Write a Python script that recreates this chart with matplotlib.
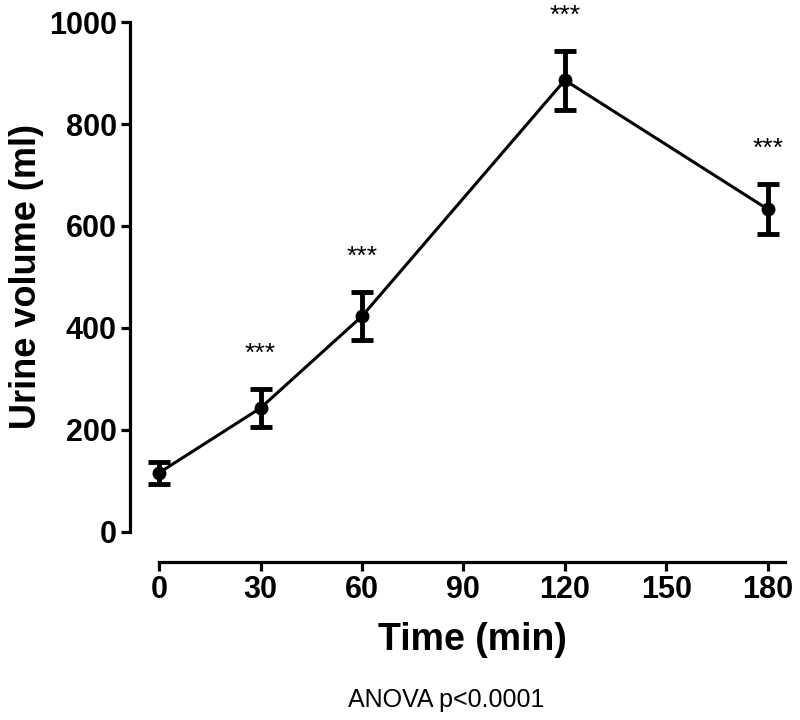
import matplotlib
matplotlib.use('Agg')
import matplotlib.pyplot as plt

# data
time_min = [0, 30, 60, 120, 180]
urine_ml = [116, 243, 423, 886, 633]
urine_sem = [21, 38, 47, 58, 49]
stars = ['', '***', '***', '***', '***']
x_ticks = [0, 30, 60, 90, 120, 150, 180]
y_ticks = [0, 200, 400, 600, 800, 1000]

plt.rcParams['font.family'] = ['Liberation Sans', 'DejaVu Sans']

fig = plt.figure(figsize=(8, 7.2), dpi=100)
ax = fig.add_axes([0.1625, 0.2194, 0.8225, 0.75])

ax.errorbar(time_min, urine_ml, yerr=urine_sem, color='black', lw=2.2,
            marker='o', ms=9, elinewidth=3.5, capsize=8, capthick=3.5,
            clip_on=False, zorder=3)

# significance marks above the error bars
for x, y, e, s in zip(time_min, urine_ml, urine_sem, stars):
    if s:
        ax.text(x, y + e + 45, s, ha='center', va='bottom', fontsize=19,
                clip_on=False)

ax.set_xlim(-8.6, 186)
ax.set_ylim(-59, 1000)
ax.spines['top'].set_visible(False)
ax.spines['right'].set_visible(False)
ax.spines['bottom'].set_bounds(0, 185)
ax.spines['left'].set_bounds(0, 1000)
for sp in ['left', 'bottom']:
    ax.spines[sp].set_linewidth(2.3)

ax.set_xticks(x_ticks)
ax.set_yticks(y_ticks)
ax.tick_params(direction='out', length=6.5, width=2.3, labelsize=22, pad=3)
for lbl in ax.get_xticklabels() + ax.get_yticklabels():
    lbl.set_fontweight('bold')

xl = ax.set_xlabel('Time (min)', fontsize=27, fontweight='bold')
yl = ax.set_ylabel('Urine volume (ml)', fontsize=26, fontweight='bold')
xl.set_va('center')
yl.set_va('center')
ax.xaxis.set_label_coords(0.521, -0.144)
ax.yaxis.set_label_coords(-0.157, 0.528)

fig.text(0.5575, 0.028, 'ANOVA p<0.0001', ha='center', va='center', fontsize=18)

fig.savefig('out.png', dpi=100)
